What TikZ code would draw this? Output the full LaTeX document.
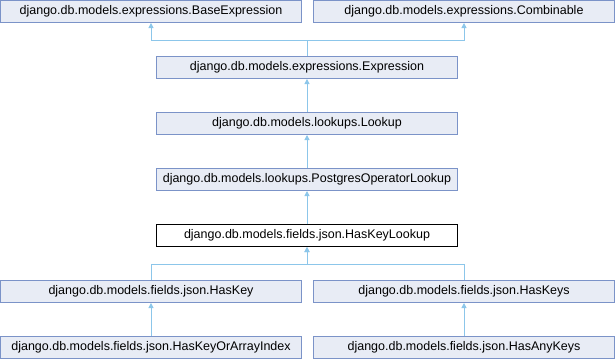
\documentclass[tikz,border=0pt]{standalone}
\usepackage{fontspec}
\setmainfont{Liberation Sans}
\usetikzlibrary{arrows.meta}
\definecolor{boxfill}{HTML}{E8ECF5}
\definecolor{boxline}{HTML}{7B93C8}
\definecolor{edgeblue}{HTML}{8CC6EA}
\begin{document}
\begin{tikzpicture}[x=1pt,y=1pt,
  cls/.style={draw=boxline,fill=boxfill,line width=1pt,minimum width=301pt,minimum height=22pt,
    inner sep=0pt,font=\fontsize{12.5pt}{14pt}\selectfont},
  current/.style={cls,draw=black,fill=white},
  inherit/.style={draw=edgeblue,line width=1pt,-{Triangle[width=5pt,length=5pt]}}]
\useasboundingbox (0,0) rectangle (616,360);
% class boxes
\node[cls] (base) at (151,348.5) {django.db.models.expressions.BaseExpression};
\node[cls] (comb) at (464,348.5) {django.db.models.expressions.Combinable};
\node[cls] (expr) at (307,292.5) {django.db.models.expressions.Expression};
\node[cls] (look) at (307,236.5) {django.db.models.lookups.Lookup};
\node[cls] (pgop) at (307,180.5) {django.db.models.lookups.PostgresOperatorLookup};
\node[current] (hkl) at (307,124.5) {django.db.models.fields.json.HasKeyLookup};
\node[cls] (hk) at (151,68.5) {django.db.models.fields.json.HasKey};
\node[cls] (hks) at (464,68.5) {django.db.models.fields.json.HasKeys};
\node[cls] (hkoai) at (151,12.5) {django.db.models.fields.json.HasKeyOrArrayIndex};
\node[cls] (hak) at (464,12.5) {django.db.models.fields.json.HasAnyKeys};
% inheritance connectors
\coordinate (j1) at (307,320);
\coordinate (j2) at (307,96);
\draw[inherit] (expr.north) -- (j1) -| (base.south);
\draw[inherit] (expr.north) -- (j1) -| (comb.south);
\draw[inherit] (look.north) -- (expr.south);
\draw[inherit] (pgop.north) -- (look.south);
\draw[inherit] (hkl.north) -- (pgop.south);
\draw[inherit] (hk.north) |- (j2) -- (hkl.south);
\draw[inherit] (hks.north) |- (j2) -- (hkl.south);
\draw[inherit] (hkoai.north) -- (hk.south);
\draw[inherit] (hak.north) -- (hks.south);
\end{tikzpicture}
\end{document}
